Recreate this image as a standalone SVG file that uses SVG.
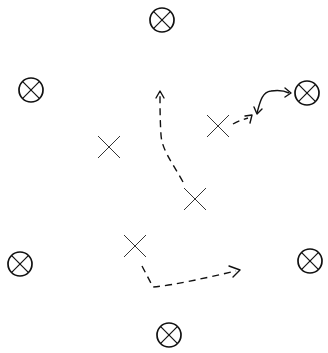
<svg xmlns="http://www.w3.org/2000/svg" width="328" height="353" viewBox="0 0 328 353">
<defs>
<style>
.ox circle{fill:none;stroke:#111;stroke-width:1.7}
.ox line{stroke:#111;stroke-width:1.2}
.xm line{stroke:#333;stroke-width:1}
.dash{fill:none;stroke:#111;stroke-width:1.4;stroke-dasharray:7 5}
.solid{fill:none;stroke:#111;stroke-width:1.4}
.head{fill:none;stroke:#111;stroke-width:1.4;stroke-linecap:round;stroke-linejoin:round}
</style>
<g id="oxsym" class="ox"><circle cx="0" cy="0" r="12"/><line x1="-8.3" y1="-8.3" x2="8.3" y2="8.3"/><line x1="-8.3" y1="8.3" x2="8.3" y2="-8.3"/></g>
<g id="xsym" class="xm"><line x1="-11" y1="-11" x2="11" y2="11"/><line x1="-11" y1="11" x2="11" y2="-11"/></g>
</defs>
<rect width="328" height="353" fill="#fff"/>
<g id="ox-top"><use href="#oxsym" x="162" y="20"/></g>
<g id="ox-upper-left"><use href="#oxsym" x="31" y="90"/></g>
<g id="ox-upper-right"><use href="#oxsym" x="307" y="93"/></g>
<g id="ox-lower-left"><use href="#oxsym" x="20" y="264"/></g>
<g id="ox-lower-right"><use href="#oxsym" x="310" y="261"/></g>
<g id="ox-bottom"><use href="#oxsym" x="169" y="335"/></g>
<g id="x-left"><use href="#xsym" x="109" y="147"/></g>
<g id="x-upper"><use href="#xsym" x="218" y="126"/></g>
<g id="x-center"><use href="#xsym" x="195" y="199"/></g>
<g id="x-lower"><use href="#xsym" x="135" y="246"/></g>
<g id="connectors">
<path class="dash" d="M183,182 C172,162 162,150 161,135 C160,120 160,105 160,94"/>
<path class="head" d="M156,98 L160,91 L164,98"/>
<path class="dash" d="M233,124 C238,121 242,120 248,118" stroke-dasharray="4 4"/>
<path class="head" d="M245,116 L252,115 L250,123"/>
<path class="solid" d="M257,113 C260,102 262,92 271,91 C278,90 283,90 289,93"/>
<path class="head" d="M254,107 L257,114 L262,109"/>
<path class="head" d="M285,88 L291,93 L285,97"/>
<path class="dash" d="M142,266 L153,287 C175,285 205,278 236,271"/>
<path class="head" d="M229,266 L240,270 L233,277"/>
</g>
</svg>
